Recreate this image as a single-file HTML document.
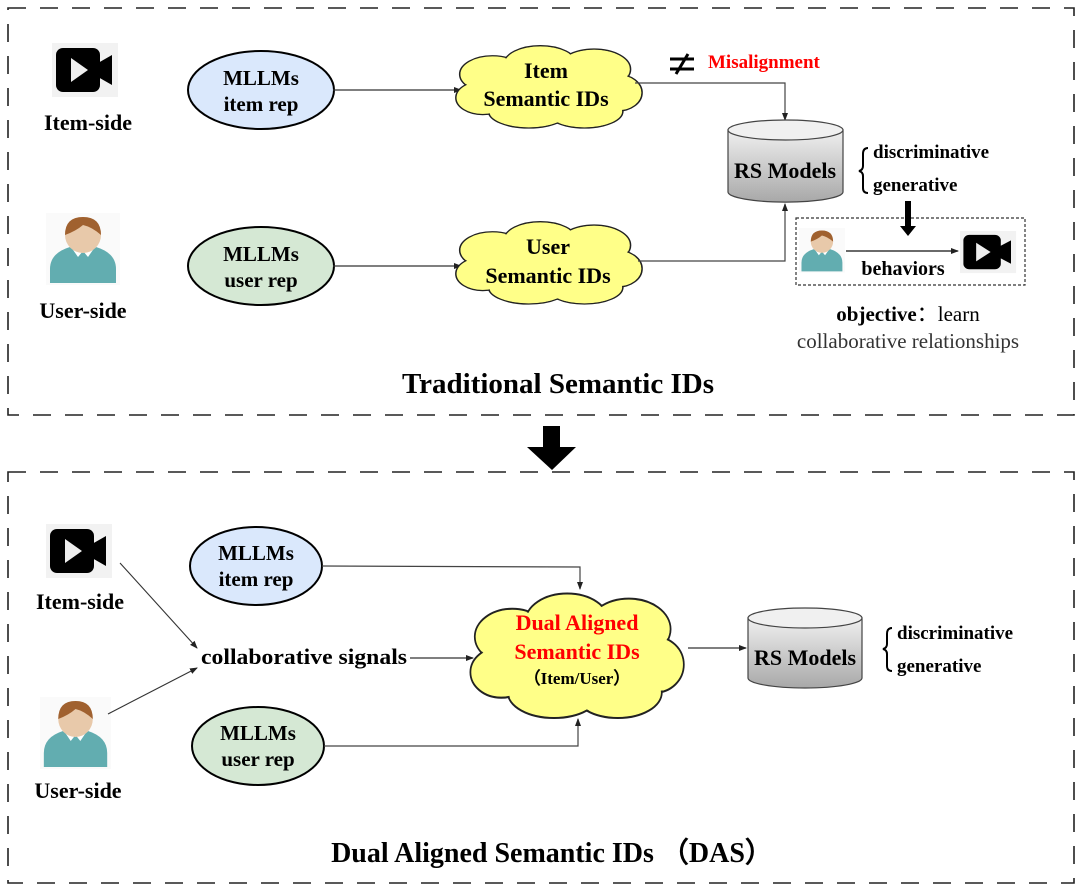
<!DOCTYPE html>
<html><head><meta charset="utf-8"><style>
html,body{margin:0;padding:0;background:#fff}
svg{display:block}
text{font-family:"Liberation Serif",serif;font-weight:bold;fill:#000}
</style></head><body>
<svg width="1080" height="889" viewBox="0 0 1080 889" xmlns="http://www.w3.org/2000/svg">
<defs>
<marker id="ah" markerWidth="8" markerHeight="8" refX="7" refY="4" orient="auto" markerUnits="userSpaceOnUse">
<path d="M0,1 L8,4 L0,7 Z" fill="#222"/></marker>
<g id="vid">
<rect x="0" y="0" width="66" height="54" fill="#f2f2f2"/>
<rect x="4" y="5" width="44" height="44" rx="7" fill="#000"/>
<path d="M46,20 L60,12 L60,42 L46,34 Z" fill="#000"/>
<path d="M19,15 L36,27 L19,39 Z" fill="#eee"/>
</g>
<g id="usr">
<rect x="0" y="0" width="74" height="72" fill="#fafafa"/>
<path d="M4,70 L4,56 Q4,40 24,34 L50,34 Q70,40 70,56 L70,70 Z" fill="#62adb0"/>
<path d="M25,34 L32,44 L37,38 L42,44 L49,34 Z" fill="#fff"/>
<circle cx="37" cy="22" r="18" fill="#e8c9aa"/>
<path d="M19,22 Q19,4 37,4 Q55,4 55,22 Q46,14 37,12 Q30,18 19,22 Z" fill="#a0612f"/>
</g>
<g id="cloud">
<g fill="#ffff88" stroke="#222" stroke-width="1.6">
<ellipse cx="42" cy="36" rx="34" ry="22"/>
<ellipse cx="92" cy="24" rx="38" ry="22"/>
<ellipse cx="148" cy="30" rx="38" ry="24"/>
<ellipse cx="172" cy="58" rx="26" ry="22"/>
<ellipse cx="138" cy="80" rx="40" ry="20"/>
<ellipse cx="80" cy="80" rx="42" ry="20"/>
<ellipse cx="32" cy="64" rx="28" ry="20"/>
</g>
<g fill="#ffff88">
<ellipse cx="42" cy="36" rx="33" ry="21"/>
<ellipse cx="92" cy="24" rx="37" ry="21"/>
<ellipse cx="148" cy="30" rx="37" ry="23"/>
<ellipse cx="172" cy="58" rx="25" ry="21"/>
<ellipse cx="138" cy="80" rx="39" ry="19"/>
<ellipse cx="80" cy="80" rx="41" ry="19"/>
<ellipse cx="32" cy="64" rx="27" ry="19"/>
<ellipse cx="100" cy="52" rx="80" ry="34"/>
</g>
</g>
<linearGradient id="cyl" x1="0" y1="0" x2="0" y2="1">
<stop offset="0" stop-color="#f0f0f0"/><stop offset="1" stop-color="#a8a8a8"/></linearGradient>
</defs>

<rect x="8" y="8" width="1066" height="407" fill="none" stroke="#222" stroke-width="1.6" stroke-dasharray="18,14"/>
<rect x="8" y="472" width="1066" height="411" fill="none" stroke="#222" stroke-width="1.6" stroke-dasharray="18,14"/>
<path d="M543,426 L560,426 L560,447 L576,447 L552,470 L527,447 L543,447 Z" fill="#000"/>

<!-- TOP -->
<use href="#vid" x="52" y="43"/>
<text x="88" y="130" font-size="22" text-anchor="middle">Item-side</text>
<use href="#usr" transform="translate(46,213) scale(1,1)"/>
<text x="83" y="318" font-size="22" text-anchor="middle">User-side</text>

<ellipse cx="261" cy="90" rx="73" ry="39" fill="#dae8fc" stroke="#000" stroke-width="2"/>
<text x="261" y="85" font-size="21" text-anchor="middle">MLLMs</text>
<text x="261" y="111" font-size="21" text-anchor="middle">item rep</text>
<ellipse cx="261" cy="266" rx="73" ry="39" fill="#d5e8d4" stroke="#000" stroke-width="2"/>
<text x="261" y="261" font-size="21" text-anchor="middle">MLLMs</text>
<text x="261" y="287" font-size="21" text-anchor="middle">user rep</text>

<line x1="333" y1="90" x2="461" y2="90" stroke="#333" stroke-width="1.2" marker-end="url(#ah)"/>
<line x1="333" y1="266" x2="461" y2="266" stroke="#333" stroke-width="1.2" marker-end="url(#ah)"/>

<use href="#cloud" transform="translate(452,44) scale(0.96,0.84)"/>
<text x="546" y="78" font-size="22" text-anchor="middle">Item</text>
<text x="546" y="106" font-size="22" text-anchor="middle">Semantic IDs</text>
<use href="#cloud" transform="translate(452,220) scale(0.96,0.84)"/>
<text x="548" y="254" font-size="22" text-anchor="middle">User</text>
<text x="548" y="283" font-size="22" text-anchor="middle">Semantic IDs</text>

<polyline points="635,83 785,83 785,120" fill="none" stroke="#444" stroke-width="1.2" marker-end="url(#ah)"/>
<polyline points="638,261 785,261 785,204" fill="none" stroke="#444" stroke-width="1.2" marker-end="url(#ah)"/>

<g stroke="#000" stroke-width="3">
<line x1="670" y1="59" x2="694" y2="59"/><line x1="670" y1="69" x2="694" y2="69"/>
<line x1="676" y1="74" x2="688" y2="54"/></g>
<text x="708" y="68" font-size="19" style="fill:#ff0000">Misalignment</text>

<path d="M728,130 L728,192 A57,10 0 0 0 843,192 L843,130 Z" fill="url(#cyl)" stroke="#444" stroke-width="1.2"/>
<ellipse cx="785.5" cy="130" rx="57.5" ry="10" fill="#f0f0f0" stroke="#444" stroke-width="1.2"/>
<text x="785" y="178" font-size="22" text-anchor="middle">RS Models</text>
<path d="M868,148 Q863,148 863,154 L863,166 Q863,170 859,171 Q863,172 863,176 L863,188 Q863,193 868,193" fill="none" stroke="#000" stroke-width="2"/>
<text x="873" y="158" font-size="19">discriminative</text>
<text x="873" y="191" font-size="19">generative</text>
<rect x="796" y="218" width="229" height="67" fill="none" stroke="#333" stroke-width="1.2" stroke-dasharray="3,2"/>
<path d="M905,201 L911,201 L911,226 L916,226 L908,236 L900,226 L905,226 Z" fill="#000"/>
<use href="#usr" transform="translate(799,228) scale(0.62)"/>
<line x1="846" y1="251" x2="958" y2="251" stroke="#111" stroke-width="1.3" marker-end="url(#ah)"/>
<text x="903" y="275" font-size="20" text-anchor="middle">behaviors</text>
<use href="#vid" transform="translate(960,231) scale(0.85,0.78)"/>
<text x="908" y="321" font-size="21" text-anchor="middle">objective<tspan style="font-weight:normal">：learn</tspan></text>
<text x="908" y="348" font-size="21" text-anchor="middle" style="font-weight:normal;fill:#333">collaborative relationships</text>
<text x="558" y="393" font-size="29" text-anchor="middle">Traditional Semantic IDs</text>

<!-- BOTTOM -->
<use href="#vid" transform="translate(46,524)"/>
<text x="80" y="609" font-size="22" text-anchor="middle">Item-side</text>
<use href="#usr" transform="translate(40,697) scale(0.96,1)"/>
<text x="78" y="798" font-size="22" text-anchor="middle">User-side</text>

<ellipse cx="256" cy="566" rx="66" ry="39" fill="#dae8fc" stroke="#000" stroke-width="2"/>
<text x="256" y="560" font-size="21" text-anchor="middle">MLLMs</text>
<text x="256" y="586" font-size="21" text-anchor="middle">item rep</text>
<ellipse cx="258" cy="746" rx="66" ry="39" fill="#d5e8d4" stroke="#000" stroke-width="2"/>
<text x="258" y="740" font-size="21" text-anchor="middle">MLLMs</text>
<text x="258" y="766" font-size="21" text-anchor="middle">user rep</text>

<line x1="120" y1="563" x2="197" y2="648" stroke="#333" stroke-width="1.1" marker-end="url(#ah)"/>
<line x1="108" y1="714" x2="197" y2="668" stroke="#333" stroke-width="1.1" marker-end="url(#ah)"/>
<text x="304" y="664" font-size="22" text-anchor="middle" textLength="206" lengthAdjust="spacingAndGlyphs">collaborative signals</text>
<line x1="410" y1="658" x2="473" y2="658" stroke="#333" stroke-width="1.2" marker-end="url(#ah)"/>

<polyline points="322,566 580,567 580,589" fill="none" stroke="#444" stroke-width="1.2" marker-end="url(#ah)"/>
<polyline points="324,746 578,746 578,719" fill="none" stroke="#444" stroke-width="1.2" marker-end="url(#ah)"/>

<use href="#cloud" transform="translate(466,591) scale(1.1,1.27)"/>
<text x="577" y="630" font-size="22" text-anchor="middle" style="fill:#ff0000">Dual Aligned</text>
<text x="577" y="659" font-size="22" text-anchor="middle" style="fill:#ff0000">Semantic IDs</text>
<text x="577" y="684" font-size="17" text-anchor="middle">（Item/User）</text>

<line x1="688" y1="648" x2="746" y2="648" stroke="#333" stroke-width="1.2" marker-end="url(#ah)"/>
<path d="M748,618 L748,678 A57,10 0 0 0 862,678 L862,618 Z" fill="url(#cyl)" stroke="#444" stroke-width="1.2"/>
<ellipse cx="805" cy="618" rx="57" ry="10" fill="#f0f0f0" stroke="#444" stroke-width="1.2"/>
<text x="805" y="665" font-size="22" text-anchor="middle">RS Models</text>
<path d="M892,628 Q887,628 887,634 L887,644 Q887,648 883,649 Q887,650 887,654 L887,666 Q887,671 892,671" fill="none" stroke="#000" stroke-width="2"/>
<text x="897" y="639" font-size="19">discriminative</text>
<text x="897" y="672" font-size="19">generative</text>

<text x="552" y="862" font-size="28" text-anchor="middle">Dual Aligned Semantic IDs （DAS）</text>
</svg>
</body></html>
